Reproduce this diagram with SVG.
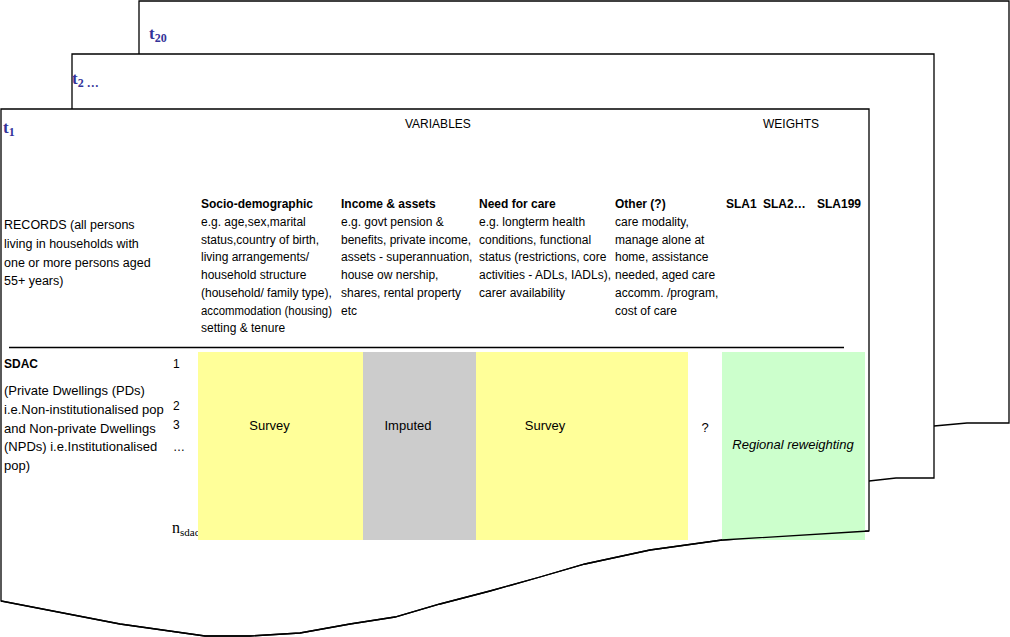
<svg xmlns="http://www.w3.org/2000/svg" width="1010" height="637" viewBox="0 0 1010 637">
<style>
.pg{fill:#fff;stroke:#000;stroke-width:1.3}
.ol{fill:none;stroke:#000;stroke-width:1.3}
.t{font-family:"Liberation Sans",Arial,sans-serif;font-size:12px;fill:#000}
.l{font-size:13px}
.r{font-size:12.5px}
.b{font-weight:bold}
.i{font-style:italic}
.m{text-anchor:middle}
.lab{font-family:"Liberation Serif","Times New Roman",serif;font-weight:bold;fill:#333399;font-size:17px}
.sub{font-size:12px}
.ser{font-family:"Liberation Serif","Times New Roman",serif;font-size:16px;fill:#000}
</style>
<g id="page-t20">
<path class="pg" d="M139,1 H1009 V423 L967,423 L934,426 L139,440 Z"/>
<text class="lab" x="149" y="39">t<tspan class="sub" dy="3">20</tspan></text>
</g>
<g id="page-t2">
<path class="pg" d="M72,54 H934 V478 L896,478 L869,481 L72,500 Z"/>
<text class="lab" x="72" y="84">t<tspan class="sub" dy="3">2 …</tspan></text>
</g>
<g id="page-t1">
<path class="pg" d="M1,109 H869 V531 L722,540 L650,550 L585,564 L540,577 L490,591 L440,604 L395,617 L350,624 L300,633 L250,636 L205,636 L120,624 L1,601 Z"/>
<text class="lab" x="3" y="133">t<tspan class="sub" dy="3">1</tspan></text>
<text class="t" x="405" y="128">VARIABLES</text>
<text class="t" x="763" y="128">WEIGHTS</text>
<line x1="9" y1="347.5" x2="844" y2="347.5" stroke="#000" stroke-width="1.3"/>
</g>
<g id="records">
<text class="t r" x="4" y="229">RECORDS (all persons</text>
<text class="t r" x="4" y="248">living in households with</text>
<text class="t r" x="4" y="267">one or more persons aged</text>
<text class="t r" x="4" y="285">55+ years)</text>
</g>
<g id="col-socio">
<text class="t b" x="201" y="208">Socio-demographic</text>
<text class="t" x="201" y="226">e.g. age,sex,marital</text>
<text class="t" x="201" y="243.7">status,country of birth,</text>
<text class="t" x="201" y="261.4">living arrangements/</text>
<text class="t" x="201" y="279.1">household structure</text>
<text class="t" x="201" y="296.8">(household/ family type),</text>
<text class="t" x="201" y="314.5" textLength="131" lengthAdjust="spacingAndGlyphs">accommodation (housing)</text>
<text class="t" x="201" y="332.2">setting &amp; tenure</text>
</g>
<g id="col-income">
<text class="t b" x="341" y="208">Income &amp; assets</text>
<text class="t" x="341" y="226">e.g. govt pension &amp;</text>
<text class="t" x="341" y="243.7">benefits, private income,</text>
<text class="t" x="341" y="261.4">assets - superannuation,</text>
<text class="t" x="341" y="279.1">house ow nership,</text>
<text class="t" x="341" y="296.8">shares, rental property</text>
<text class="t" x="341" y="314.5">etc</text>
</g>
<g id="col-need">
<text class="t b" x="479" y="208">Need for care</text>
<text class="t" x="479" y="226">e.g. longterm health</text>
<text class="t" x="479" y="243.7">conditions, functional</text>
<text class="t" x="479" y="261.4">status (restrictions, core</text>
<text class="t" x="479" y="279.1">activities - ADLs, IADLs),</text>
<text class="t" x="479" y="296.8">carer availability</text>
</g>
<g id="col-other">
<text class="t b" x="615" y="208">Other (?)</text>
<text class="t" x="615" y="226">care modality,</text>
<text class="t" x="615" y="243.7">manage alone at</text>
<text class="t" x="615" y="261.4">home, assistance</text>
<text class="t" x="615" y="279.1">needed, aged care</text>
<text class="t" x="615" y="296.8">accomm. /program,</text>
<text class="t" x="615" y="314.5">cost of care</text>
</g>
<g id="col-weights">
<text class="t b" x="726" y="208">SLA1</text>
<text class="t b" x="763" y="208">SLA2…</text>
<text class="t b" x="817" y="208">SLA199</text>
</g>
<g id="sdac">
<text class="t b" x="4" y="368">SDAC</text>
<text class="t l" x="4" y="395">(Private Dwellings (PDs)</text>
<text class="t l" x="4" y="414">i.e.Non-institutionalised pop</text>
<text class="t l" x="4" y="433">and Non-private Dwellings</text>
<text class="t l" x="4" y="451">(NPDs) i.e.Institutionalised</text>
<text class="t l" x="4" y="470">pop)</text>
</g>
<g id="row-index">
<text class="t" x="173" y="368">1</text>
<text class="t" x="173" y="410">2</text>
<text class="t" x="173" y="429">3</text>
<text class="t" x="173" y="451">…</text>
<text class="ser" x="172" y="533">n<tspan font-size="11" dy="3">sdac</tspan></text>
</g>
<g id="cell-survey1">
<rect x="198" y="352" width="165" height="188" fill="#FFFF99"/>
<text class="t l m" x="269.5" y="430">Survey</text>
</g>
<g id="cell-imputed">
<rect x="363" y="352" width="113" height="188" fill="#CCCCCC"/>
<text class="t l m" x="408" y="430">Imputed</text>
</g>
<g id="cell-survey2">
<rect x="476" y="352" width="212" height="188" fill="#FFFF99"/>
<text class="t l m" x="545" y="430">Survey</text>
</g>
<g id="cell-other">
<text class="t l m" x="705" y="432">?</text>
</g>
<g id="cell-reweight">
<rect x="722" y="352" width="143" height="188" fill="#CCFFCC"/>
<text class="t l i m" x="793" y="449">Regional reweighting</text>
</g>
<g id="page-t1-edge">
<path class="ol" d="M869,531 L722,540 L650,550 L585,564 L540,577 L490,591 L440,604 L395,617 L350,624 L300,633 L250,636 L205,636 L120,624 L1,601"/>
</g>
</svg>
